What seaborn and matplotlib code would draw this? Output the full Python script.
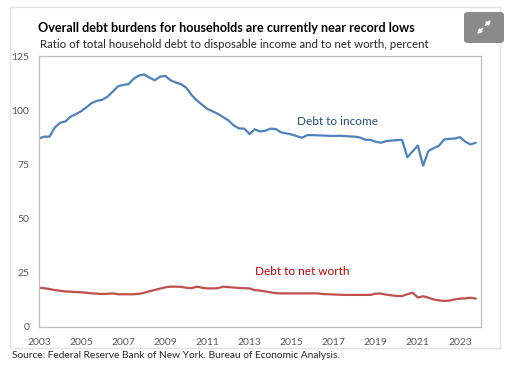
import numpy as np
import pandas as pd
import seaborn as sns
import matplotlib.pyplot as plt
from matplotlib.patches import FancyBboxPatch, Rectangle, FancyArrowPatch

# quarterly observations, 2003Q1 .. 2023Q4
quarters = pd.period_range("2003Q1", "2023Q4", freq="Q")

debt_to_income = [
    87.0, 87.8, 87.8, 92.0, 94.2, 94.8, 97.0, 98.2, 99.5, 101.3,
    103.3, 104.3, 104.8, 106.2, 108.5, 111.0, 111.7, 112.0, 114.5, 116.0,
    116.5, 115.0, 113.8, 115.5, 115.8, 113.8, 112.8, 112.0, 110.3, 107.0,
    104.5, 102.5, 100.6, 99.5, 98.3, 96.8, 95.3, 93.0, 91.6, 91.5,
    89.0, 91.2, 90.2, 90.5, 91.5, 91.3, 89.8, 89.3, 88.8, 88.0,
    87.3, 88.5, 88.5, 88.4, 88.3, 88.2, 88.1, 88.2, 88.1, 87.9,
    87.8, 87.4, 86.4, 86.3, 85.4, 85.0, 85.8, 86.0, 86.2, 86.3,
    78.3, 81.0, 83.7, 74.4, 81.2, 82.5, 83.6, 86.5, 86.8, 86.9,
    87.6, 85.5, 84.2, 85.0,
]

debt_to_net_worth = [
    18.1, 17.9, 17.5, 17.0, 16.7, 16.4, 16.3, 16.1, 16.0, 15.8,
    15.5, 15.4, 15.2, 15.3, 15.5, 15.1, 15.1, 15.1, 15.1, 15.3,
    15.8, 16.5, 17.1, 17.7, 18.3, 18.6, 18.6, 18.5, 18.1, 17.9,
    18.6, 18.1, 17.8, 17.8, 17.9, 18.6, 18.4, 18.2, 18.0, 17.9,
    17.8, 17.0, 16.8, 16.4, 16.0, 15.6, 15.5, 15.5, 15.5, 15.5,
    15.5, 15.5, 15.5, 15.5, 15.2, 15.1, 15.0, 14.9, 14.8, 14.8,
    14.8, 14.8, 14.8, 14.8, 15.4, 15.4, 14.9, 14.6, 14.3, 14.3,
    15.1, 15.8, 13.6, 14.2, 13.5, 12.7, 12.3, 12.0, 12.2, 12.7,
    13.1, 13.2, 13.5, 13.1,
]

year_ticks = [2003, 2005, 2007, 2009, 2011, 2013, 2015, 2017, 2019, 2021, 2023]
y_ticks = [0, 25, 50, 75, 100, 125]

df = pd.DataFrame({
    "t": [q.year + (q.quarter - 1) / 4 for q in quarters],
    "Debt to income": debt_to_income,
    "Debt to net worth": debt_to_net_worth,
})
long = df.melt(id_vars="t", var_name="series", value_name="value")

sns.set_style("white")
plt.rcParams["font.family"] = ["Lato", "DejaVu Sans"]

W, H = 521, 373
fig = plt.figure(figsize=(W / 100, H / 100), dpi=100)

# outer card frame
fig.patches.append(Rectangle((10 / W, 1 - 348 / H), 490 / W, 341 / H,
                             transform=fig.transFigure, fill=False,
                             edgecolor="#e3e3e3", linewidth=1.0))

ax = fig.add_axes([39 / W, 1 - 327 / H, 442 / W, 271 / H])

palette = {"Debt to income": "#4f81bd", "Debt to net worth": "#c0504d"}
sns.lineplot(data=long, x="t", y="value", hue="series", palette=palette,
             linewidth=1.6, legend=False, ax=ax)

ax.set_xlim(2003, 2024)
ax.set_ylim(0, 125)
ax.set_xticks(year_ticks)
ax.set_yticks(y_ticks)
ax.set_xlabel("")
ax.set_ylabel("")
ax.tick_params(length=0, labelsize=7.5, colors="#595959")
ax.tick_params(axis="y", pad=7)
ax.tick_params(axis="x", pad=8)
for s in ax.spines.values():
    s.set_color("#bfbfbf")
    s.set_linewidth(0.9)

ax.text(2017.2, 95, "Debt to income", color="#1f4e79", fontsize=8.5,
        ha="center", va="center")
ax.text(2015.5, 25.4, "Debt to net worth", color="#c00000", fontsize=8.5,
        ha="center", va="center")

fig.text(38 / W, 1 - 28 / H,
         "Overall debt burdens for households are currently near record lows",
         fontsize=9.1, fontweight="bold", color="black", va="center", ha="left")
fig.text(40 / W, 1 - 44 / H,
         "Ratio of total household debt to disposable income and to net worth, percent",
         fontsize=8.3, color="#262626", va="center", ha="left")
fig.text(12 / W, 1 - 356 / H,
         "Source: Federal Reserve Bank of New York. Bureau of Economic Analysis.",
         fontsize=7.3, color="#262626", va="center", ha="left")

# expand icon
fig.patches.append(FancyBboxPatch((464 / W, 1 - 43 / H), 40 / W, 31 / H,
                                  boxstyle="round,pad=0,rounding_size=0.008",
                                  transform=fig.transFigure, facecolor="#8a8a8a",
                                  edgecolor="none"))
cx, cy = 484, 27
for sx in (1, -1):
    fig.patches.append(FancyArrowPatch(
        ((cx + sx * 1.5) / W, 1 - (cy - sx * 1.5) / H),
        ((cx + sx * 7) / W, 1 - (cy - sx * 7) / H),
        transform=fig.transFigure, arrowstyle="-|>", mutation_scale=6,
        color="white", linewidth=1.2, shrinkA=0, shrinkB=0))

fig.savefig("out.png", dpi=100)
